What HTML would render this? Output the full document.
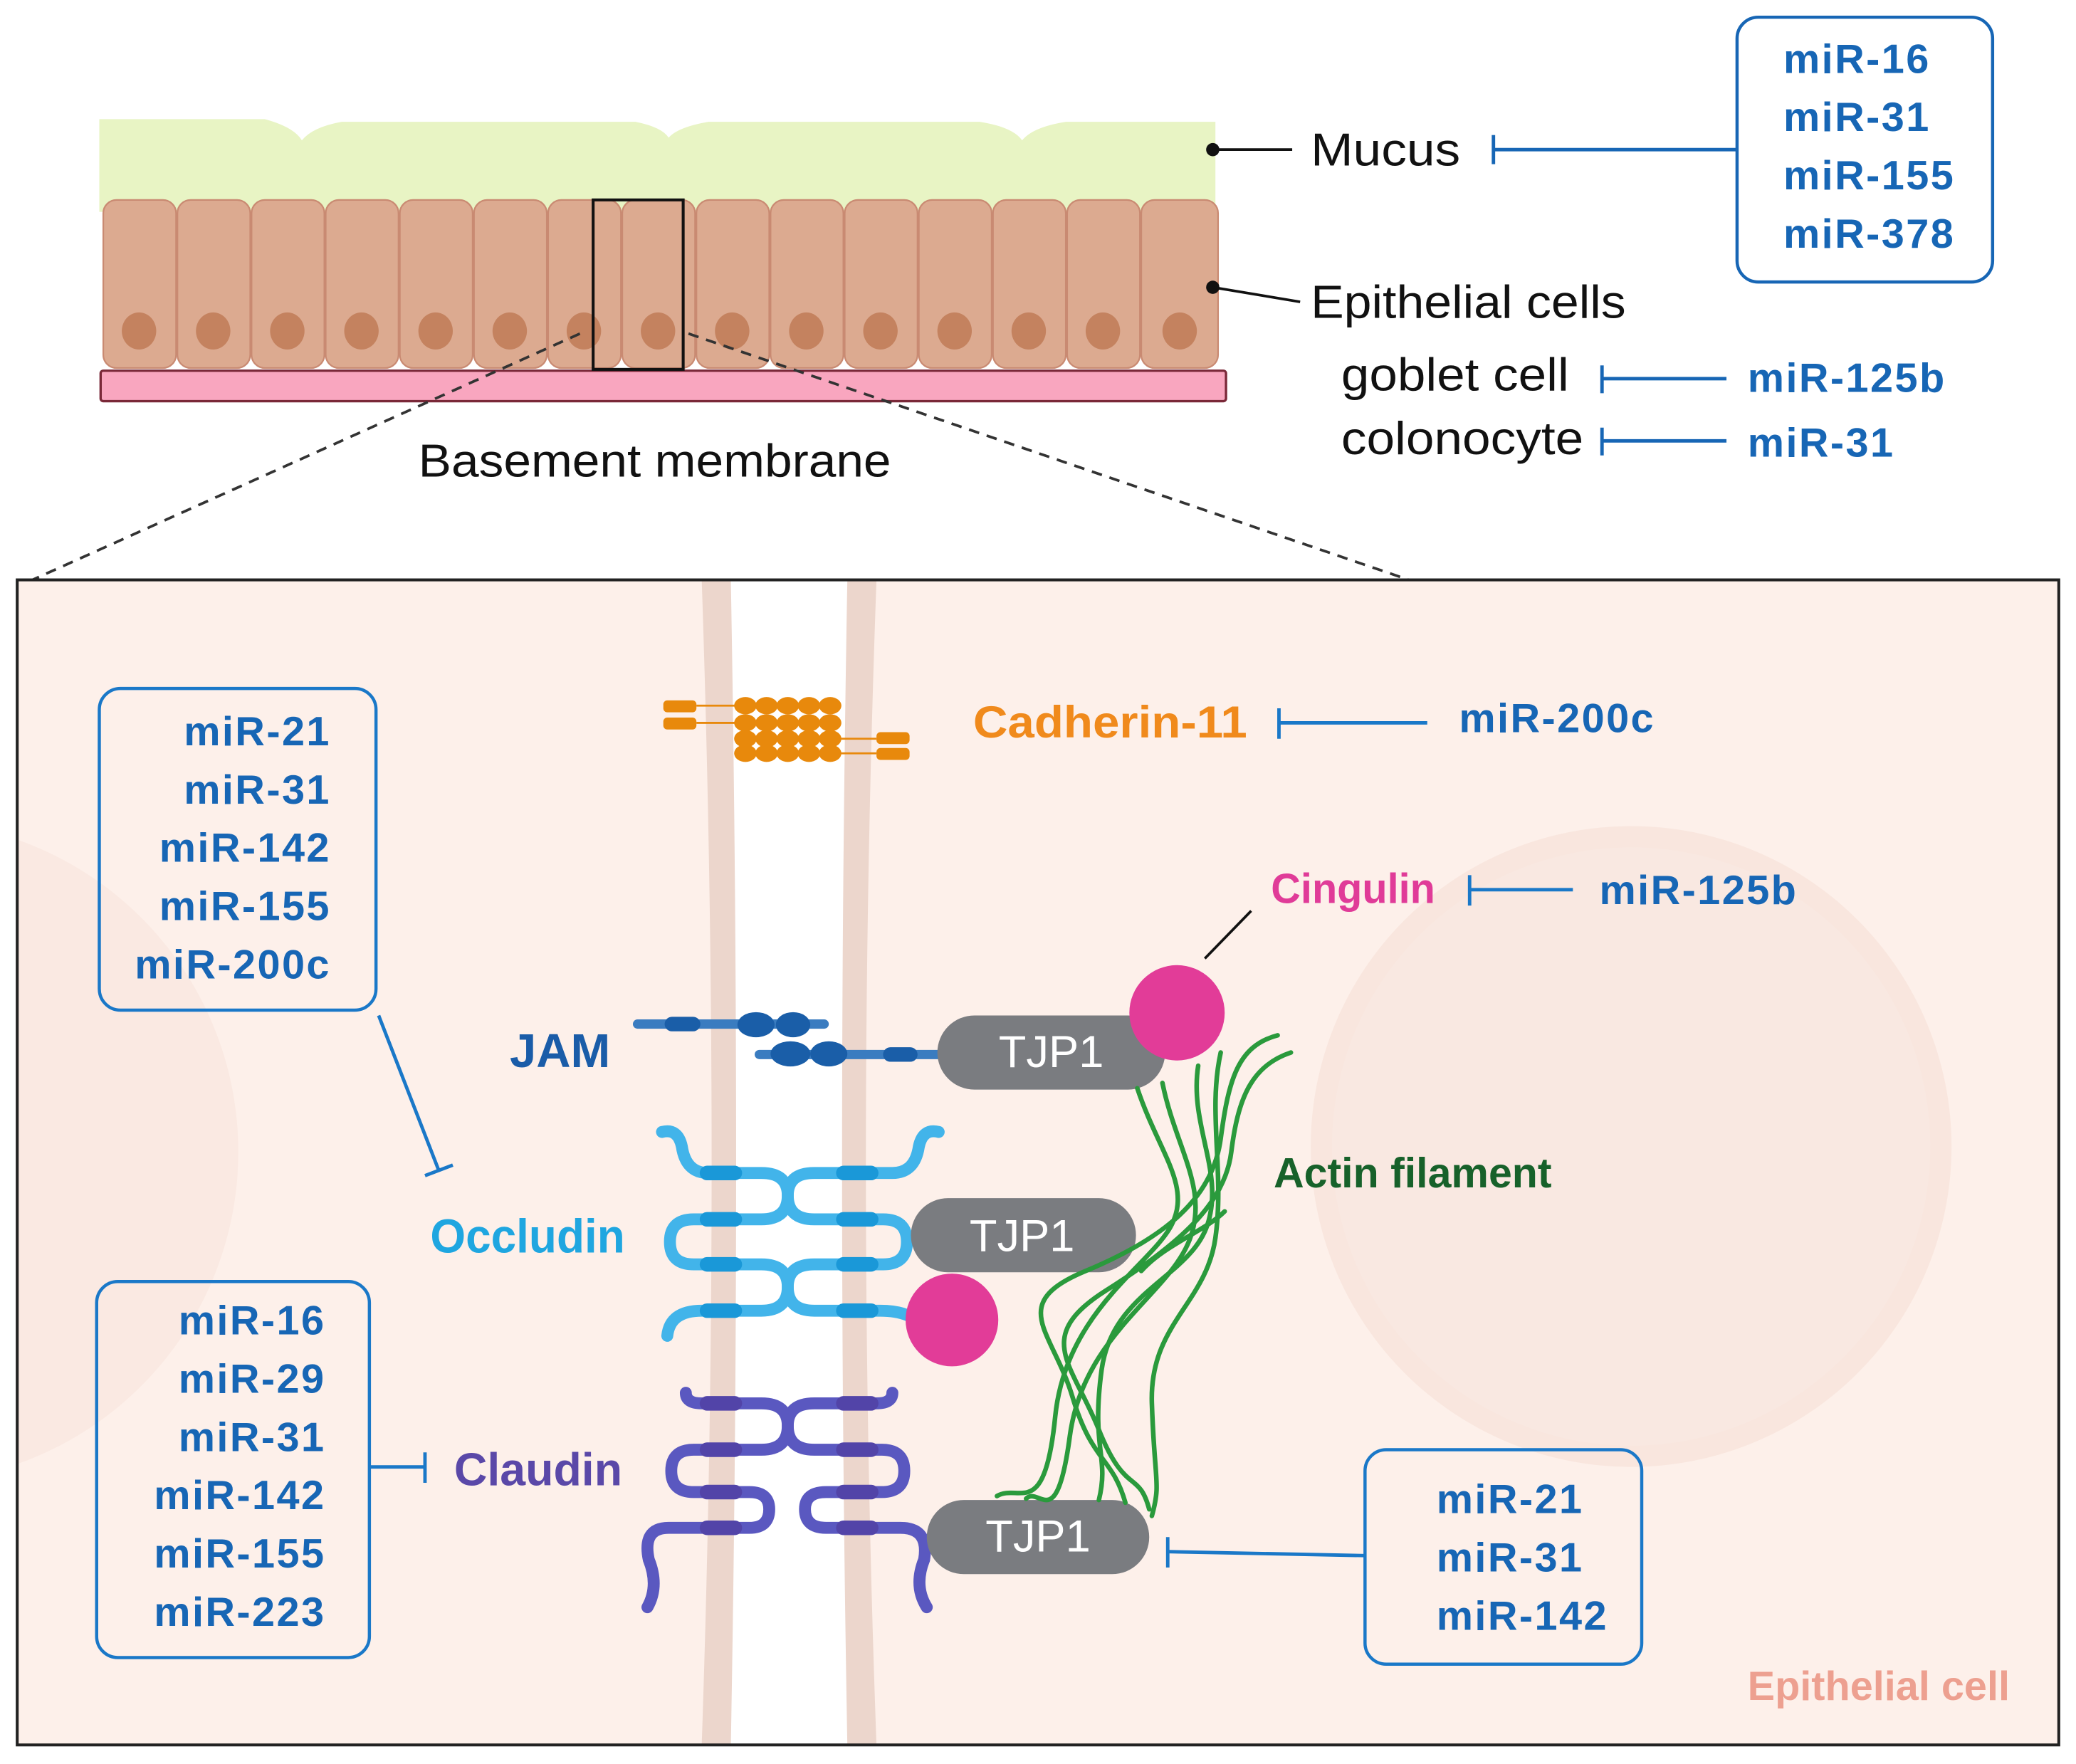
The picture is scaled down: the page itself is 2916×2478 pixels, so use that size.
<!DOCTYPE html>
<html><head><meta charset="utf-8"><style>
html,body{margin:0;padding:0;background:#fff;}
svg{display:block;}
text{font-family:"Liberation Sans",Arial,sans-serif;}
.m{font-weight:bold;font-size:31px;fill:#1766b5;letter-spacing:1.3px;}
.t{font-size:35px;fill:#111;}
</style></head><body>
<svg width="2916" height="2478" viewBox="0 0 1568 1332.4" preserveAspectRatio="none" xmlns="http://www.w3.org/2000/svg">
<rect x="0" y="0" width="1568" height="1333" fill="#fff"/>
<!-- mucus -->
<path d="M75,90 L200,90 Q222,96 228,106 Q236,96 258,92 L480,92 Q500,96 505,104 Q512,96 535,92 L740,92 Q765,96 772,106 Q780,96 805,92 L918,92 L918,160 L75,160 Z" fill="#e8f4c4"/>
<!-- cells -->
<g fill="#dcaa90" stroke="#c98a72" stroke-width="1.2">
<rect x="78" y="151" width="55" height="127" rx="10"/>
<rect x="134" y="151" width="55" height="127" rx="10"/>
<rect x="190" y="151" width="55" height="127" rx="10"/>
<rect x="246" y="151" width="55" height="127" rx="10"/>
<rect x="302" y="151" width="55" height="127" rx="10"/>
<rect x="358" y="151" width="55" height="127" rx="10"/>
<rect x="414" y="151" width="55" height="127" rx="10"/>
<rect x="470" y="151" width="55" height="127" rx="10"/>
<rect x="526" y="151" width="55" height="127" rx="10"/>
<rect x="582" y="151" width="55" height="127" rx="10"/>
<rect x="638" y="151" width="55" height="127" rx="10"/>
<rect x="694" y="151" width="55" height="127" rx="10"/>
<rect x="750" y="151" width="55" height="127" rx="10"/>
<rect x="806" y="151" width="55" height="127" rx="10"/>
<rect x="862" y="151" width="58" height="127" rx="10"/>
</g>
<g fill="#c4825f">
<ellipse cx="105" cy="250" rx="13" ry="14"/><ellipse cx="161" cy="250" rx="13" ry="14"/><ellipse cx="217" cy="250" rx="13" ry="14"/><ellipse cx="273" cy="250" rx="13" ry="14"/><ellipse cx="329" cy="250" rx="13" ry="14"/><ellipse cx="385" cy="250" rx="13" ry="14"/><ellipse cx="441" cy="250" rx="13" ry="14"/><ellipse cx="497" cy="250" rx="13" ry="14"/><ellipse cx="553" cy="250" rx="13" ry="14"/><ellipse cx="609" cy="250" rx="13" ry="14"/><ellipse cx="665" cy="250" rx="13" ry="14"/><ellipse cx="721" cy="250" rx="13" ry="14"/><ellipse cx="777" cy="250" rx="13" ry="14"/><ellipse cx="833" cy="250" rx="13" ry="14"/><ellipse cx="891" cy="250" rx="13" ry="14"/>
</g>
<rect x="76" y="280" width="850" height="23" rx="2" fill="#f9a6bf" stroke="#7a2838" stroke-width="1.8"/>
<rect x="448" y="151" width="68" height="128" fill="none" stroke="#111" stroke-width="2.2"/>
<g stroke="#333" stroke-width="2" stroke-dasharray="8,6" fill="none">
<line x1="438" y1="252" x2="20" y2="440"/>
<line x1="520" y1="252" x2="1070" y2="440"/>
</g>
<text class="t" x="316" y="360" textLength="357" lengthAdjust="spacingAndGlyphs">Basement membrane</text>
<!-- top right labels -->
<circle cx="916" cy="113" r="5" fill="#111"/>
<line x1="916" y1="113" x2="976" y2="113" stroke="#111" stroke-width="2"/>
<text class="t" x="990" y="125" textLength="113" lengthAdjust="spacingAndGlyphs">Mucus</text>
<line x1="1128" y1="113" x2="1312" y2="113" stroke="#1766b5" stroke-width="2.6"/>
<line x1="1128" y1="102" x2="1128" y2="124" stroke="#1766b5" stroke-width="2.6"/>
<rect x="1312" y="13" width="193" height="200" rx="16" fill="#fff" stroke="#1766b5" stroke-width="2.4"/>
<text class="m" x="1347" y="55">miR-16</text>
<text class="m" x="1347" y="99">miR-31</text>
<text class="m" x="1347" y="143">miR-155</text>
<text class="m" x="1347" y="187">miR-378</text>
<circle cx="916" cy="217" r="5" fill="#111"/>
<line x1="916" y1="217" x2="982" y2="228" stroke="#111" stroke-width="2"/>
<text class="t" x="990" y="240" textLength="238" lengthAdjust="spacingAndGlyphs">Epithelial cells</text>
<text class="t" x="1013" y="295" textLength="172" lengthAdjust="spacingAndGlyphs">goblet cell</text>
<line x1="1210" y1="286" x2="1304" y2="286" stroke="#1766b5" stroke-width="2.6"/>
<line x1="1210" y1="276" x2="1210" y2="297" stroke="#1766b5" stroke-width="2.6"/>
<text class="m" x="1320" y="296">miR-125b</text>
<text class="t" x="1013" y="343" textLength="183" lengthAdjust="spacingAndGlyphs">colonocyte</text>
<line x1="1210" y1="333" x2="1304" y2="333" stroke="#1766b5" stroke-width="2.6"/>
<line x1="1210" y1="323" x2="1210" y2="344" stroke="#1766b5" stroke-width="2.6"/>
<text class="m" x="1320" y="345">miR-31</text>

<!-- lower panel -->
<defs><clipPath id="cp"><rect x="13" y="438" width="1542" height="880"/></clipPath></defs>
<rect x="13" y="438" width="1542" height="880" fill="#fdf0ea"/>
<g clip-path="url(#cp)">
<circle cx="1232" cy="866" r="242" fill="#f9e6de"/>
<circle cx="1232" cy="866" r="226" fill="#f9e8e1"/>
<circle cx="-70" cy="870" r="250" fill="#fae9e2"/>
<path d="M530,438 Q545,880 530,1318 L662,1318 Q646,880 662,438 Z" fill="#ecd6cc"/>
<path d="M552,438 Q560,880 552,1318 L640,1318 Q632,880 640,438 Z" fill="#fff"/>
</g>
<rect x="13" y="438" width="1542" height="880" fill="none" stroke="#222" stroke-width="2.2"/>

<!-- cadherin -->
<g fill="#e8890c">
<rect x="501" y="529" width="25" height="9" rx="3"/><rect x="501" y="542" width="25" height="9" rx="3"/>
<rect x="662" y="553" width="25" height="9" rx="3"/><rect x="662" y="565" width="25" height="9" rx="3"/>
<line x1="526" y1="533" x2="555" y2="533" stroke="#e8890c" stroke-width="1.5"/>
<line x1="526" y1="546" x2="555" y2="546" stroke="#e8890c" stroke-width="1.5"/>
<line x1="633" y1="558" x2="662" y2="558" stroke="#e8890c" stroke-width="1.5"/>
<line x1="633" y1="569" x2="662" y2="569" stroke="#e8890c" stroke-width="1.5"/>
<g>
<ellipse cx="563" cy="533" rx="8.5" ry="6.5"/><ellipse cx="579" cy="533" rx="8.5" ry="6.5"/><ellipse cx="595" cy="533" rx="8.5" ry="6.5"/><ellipse cx="611" cy="533" rx="8.5" ry="6.5"/><ellipse cx="627" cy="533" rx="8.5" ry="6.5"/>
<ellipse cx="563" cy="546" rx="8.5" ry="6.5"/><ellipse cx="579" cy="546" rx="8.5" ry="6.5"/><ellipse cx="595" cy="546" rx="8.5" ry="6.5"/><ellipse cx="611" cy="546" rx="8.5" ry="6.5"/><ellipse cx="627" cy="546" rx="8.5" ry="6.5"/>
<ellipse cx="563" cy="558" rx="8.5" ry="6.5"/><ellipse cx="579" cy="558" rx="8.5" ry="6.5"/><ellipse cx="595" cy="558" rx="8.5" ry="6.5"/><ellipse cx="611" cy="558" rx="8.5" ry="6.5"/><ellipse cx="627" cy="558" rx="8.5" ry="6.5"/>
<ellipse cx="563" cy="569" rx="8.5" ry="6.5"/><ellipse cx="579" cy="569" rx="8.5" ry="6.5"/><ellipse cx="595" cy="569" rx="8.5" ry="6.5"/><ellipse cx="611" cy="569" rx="8.5" ry="6.5"/><ellipse cx="627" cy="569" rx="8.5" ry="6.5"/>
</g></g>
<text x="735" y="557" font-weight="bold" font-size="34" fill="#f08a1c" textLength="207" lengthAdjust="spacingAndGlyphs">Cadherin-11</text>
<line x1="966" y1="546" x2="1078" y2="546" stroke="#1a78c8" stroke-width="2.6"/>
<line x1="966" y1="535" x2="966" y2="558" stroke="#1a78c8" stroke-width="2.6"/>
<text class="m" x="1102" y="553">miR-200c</text>

<text x="960" y="682" font-weight="bold" font-size="32" fill="#e03b98" textLength="124" lengthAdjust="spacingAndGlyphs">Cingulin</text>
<line x1="1110" y1="672" x2="1188" y2="672" stroke="#1a78c8" stroke-width="2.6"/>
<line x1="1110" y1="661" x2="1110" y2="684" stroke="#1a78c8" stroke-width="2.6"/>
<text class="m" x="1208" y="683">miR-125b</text>
<line x1="945" y1="688" x2="910" y2="724" stroke="#111" stroke-width="2"/>

<!-- JAM -->
<g fill="#1a5ea8">
<rect x="478" y="770" width="148" height="7" rx="3.5" fill="#3a7cc0"/>
<rect x="502" y="768" width="27" height="11" rx="5.5"/>
<ellipse cx="571" cy="774" rx="14" ry="9.5"/><ellipse cx="599" cy="774" rx="13" ry="9.5"/>
<rect x="570" y="793" width="145" height="7" rx="3.5" fill="#3a7cc0"/>
<ellipse cx="597" cy="796" rx="15" ry="9.5"/><ellipse cx="626" cy="796" rx="14" ry="9.5"/>
<rect x="667" y="791" width="26" height="11" rx="5.5"/>
</g>
<text x="385" y="806" font-weight="bold" font-size="36" fill="#1a5ca8">JAM</text>

<!-- occludin -->
<g fill="none" stroke-linecap="round">
<g stroke="#42b4ea" stroke-width="9">
<path d="M500,855 Q512,852 515,866 Q518,886 535,886 L575,886 Q595,886 595,903 Q595,921 575,921 L524,921 Q506,921 506,938 Q506,955 524,955 L575,955 Q595,955 595,972 Q595,990 575,990 L530,990 Q506,990 504,1009"/>
<path d="M709,855 Q697,852 694,866 Q691,886 674,886 L615,886 Q595,886 595,903 Q595,921 615,921 L667,921 Q685,921 685,938 Q685,955 667,955 L615,955 Q595,955 595,972 Q595,990 615,990 L665,990 Q690,990 700,1005"/>
</g>
<g stroke="#1a98d8" stroke-width="11">
<path d="M534,886 L555,886 M534,921 L555,921 M534,955 L555,955 M534,990 L555,990"/>
<path d="M637,886 L658,886 M637,921 L658,921 M637,955 L658,955 M637,990 L658,990"/>
</g>
<!-- claudin -->
<g stroke="#5a58c0" stroke-width="9">
<path d="M518,1052 Q518,1060 530,1060 L575,1060 Q595,1060 595,1077 Q595,1095 575,1095 L524,1095 Q507,1095 507,1111 Q507,1127 524,1127 L566,1127 Q581,1127 581,1140 Q581,1154 566,1154 L505,1154 Q485,1154 490,1178 Q498,1198 489,1214"/>
<path d="M674,1052 Q674,1060 662,1060 L615,1060 Q595,1060 595,1077 Q595,1095 615,1095 L666,1095 Q683,1095 683,1111 Q683,1127 666,1127 L624,1127 Q608,1127 608,1140 Q608,1154 624,1154 L680,1154 Q702,1154 698,1178 Q690,1198 700,1214"/>
</g>
<g stroke="#5244a8" stroke-width="11">
<path d="M534,1060 L555,1060 M534,1095 L555,1095 M534,1127 L555,1127 M534,1154 L555,1154"/>
<path d="M637,1060 L658,1060 M637,1095 L658,1095 M637,1127 L658,1127 M637,1154 L658,1154"/>
</g>
</g>
<text x="325" y="946" font-weight="bold" font-size="36" fill="#1fa6e0" textLength="147" lengthAdjust="spacingAndGlyphs">Occludin</text>
<text x="343" y="1122" font-weight="bold" font-size="35" fill="#5a48a8" textLength="127" lengthAdjust="spacingAndGlyphs">Claudin</text>

<!-- TJP1 pills -->
<rect x="708" y="767" width="172" height="56" rx="28" fill="#7a7c80"/>
<text x="794" y="806" font-size="34" fill="#fff" text-anchor="middle">TJP1</text>
<rect x="688" y="905" width="170" height="56" rx="28" fill="#7a7c80"/>
<text x="772" y="945" font-size="34" fill="#fff" text-anchor="middle">TJP1</text>
<rect x="700" y="1133" width="168" height="56" rx="28" fill="#7a7c80"/>
<text x="784" y="1172" font-size="34" fill="#fff" text-anchor="middle">TJP1</text>
<circle cx="719" cy="997" r="35" fill="#e23c98"/>

<!-- actin -->
<g fill="none" stroke="#2a9a3c" stroke-width="3.5" stroke-linecap="round">
<path d="M859,822 C875,870 900,895 885,925 S805,990 797,1070 S770,1120 753,1130"/>
<path d="M878,818 C888,868 915,900 897,940 S818,1010 808,1085 S785,1122 775,1132"/>
<path d="M905,805 C898,850 925,885 912,925 S840,975 832,1035 S838,1100 830,1133"/>
<path d="M922,795 C912,840 925,885 918,935 S868,1000 870,1060 S877,1120 870,1145"/>
<path d="M965,782 C935,790 928,815 922,860 S880,935 820,960 S795,1005 810,1055 S840,1100 850,1135"/>
<path d="M975,795 C945,805 935,830 930,870 S890,940 835,975 S810,1030 830,1080 S860,1110 868,1140"/>
<path d="M862,960 C880,940 910,930 925,915"/>
</g>
<circle cx="889" cy="765" r="36" fill="#e23c98"/>
<text x="962" y="897" font-weight="bold" font-size="32" fill="#17612a" textLength="210" lengthAdjust="spacingAndGlyphs">Actin filament</text>

<!-- left boxes -->
<rect x="75" y="520" width="209" height="243" rx="16" fill="none" stroke="#1a78c8" stroke-width="2.4"/>
<text class="m" x="250" y="563" text-anchor="end">miR-21</text>
<text class="m" x="250" y="607" text-anchor="end">miR-31</text>
<text class="m" x="250" y="651" text-anchor="end">miR-142</text>
<text class="m" x="250" y="695" text-anchor="end">miR-155</text>
<text class="m" x="250" y="739" text-anchor="end">miR-200c</text>
<line x1="286" y1="767" x2="331" y2="883" stroke="#1a78c8" stroke-width="2.6"/>
<line x1="321" y1="888" x2="342" y2="880" stroke="#1a78c8" stroke-width="2.6"/>

<rect x="73" y="968" width="206" height="284" rx="16" fill="none" stroke="#1a78c8" stroke-width="2.4"/>
<text class="m" x="246" y="1008" text-anchor="end">miR-16</text>
<text class="m" x="246" y="1052" text-anchor="end">miR-29</text>
<text class="m" x="246" y="1096" text-anchor="end">miR-31</text>
<text class="m" x="246" y="1140" text-anchor="end">miR-142</text>
<text class="m" x="246" y="1184" text-anchor="end">miR-155</text>
<text class="m" x="246" y="1228" text-anchor="end">miR-223</text>
<line x1="279" y1="1108" x2="321" y2="1108" stroke="#1a78c8" stroke-width="2.6"/>
<line x1="321" y1="1097" x2="321" y2="1120" stroke="#1a78c8" stroke-width="2.6"/>

<!-- right box -->
<rect x="1031" y="1095" width="209" height="162" rx="16" fill="none" stroke="#1a78c8" stroke-width="2.4"/>
<text class="m" x="1085" y="1143">miR-21</text>
<text class="m" x="1085" y="1187">miR-31</text>
<text class="m" x="1085" y="1231">miR-142</text>
<line x1="1031" y1="1175" x2="882" y2="1172" stroke="#1a78c8" stroke-width="2.6"/>
<line x1="882" y1="1161" x2="882" y2="1184" stroke="#1a78c8" stroke-width="2.6"/>

<text x="1518" y="1284" font-weight="bold" font-size="31" fill="#eda090" text-anchor="end">Epithelial cell</text>
</svg>
</body></html>
